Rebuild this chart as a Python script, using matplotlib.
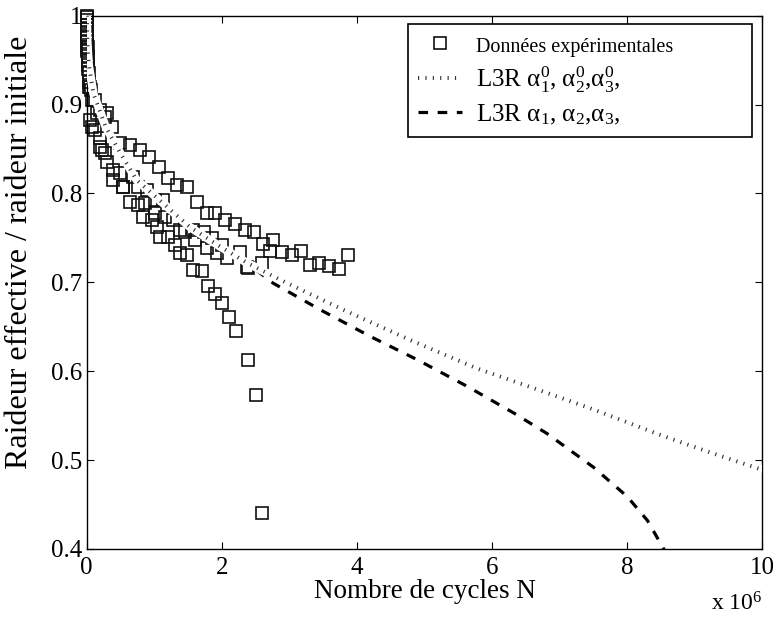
import matplotlib
matplotlib.use("Agg")
import matplotlib.pyplot as plt
from matplotlib.lines import Line2D

plt.rcParams['font.family'] = ['Liberation Serif', 'DejaVu Serif']
plt.rcParams['mathtext.fontset'] = 'custom'
plt.rcParams['mathtext.rm'] = 'Liberation Serif'
plt.rcParams['mathtext.it'] = 'Liberation Serif:italic'
plt.rcParams['mathtext.bf'] = 'Liberation Serif:bold'

# ---- experimental data (N in millions of cycles, stiffness ratio) ----
spec_a_x = [0, 0.004, 0.008, 0.015, 0.03, 0.07, 0.12, 0.2, 0.3, 0.49, 0.64, 0.79, 0.92, 1.07, 1.21,
            1.34, 1.48, 1.63, 1.78, 1.90, 2.05, 2.20, 2.35, 2.47, 2.61, 2.76, 2.89, 3.04, 3.17, 3.31,
            3.44, 3.59, 3.73, 3.87]
spec_a_y = [1.0, 0.985, 0.97, 0.955, 0.935, 0.916, 0.905, 0.894, 0.89, 0.857, 0.854, 0.849, 0.841,
            0.830, 0.817, 0.809, 0.807, 0.790, 0.778, 0.778, 0.770, 0.766, 0.759, 0.757, 0.743, 0.748,
            0.734, 0.731, 0.735, 0.720, 0.722, 0.718, 0.715, 0.731]

spec_b_x = [0, 0.004, 0.008, 0.015, 0.03, 0.05, 0.12, 0.2, 0.27, 0.39, 0.54, 0.64, 0.76, 0.84, 0.97,
            1.04, 1.09, 1.21, 1.31, 1.38, 1.48, 1.58, 1.70, 1.80, 1.90, 2.0, 2.11, 2.21, 2.39, 2.51, 2.60]
spec_b_y = [0.995, 0.978, 0.962, 0.945, 0.92, 0.883, 0.871, 0.852, 0.845, 0.826, 0.807, 0.790, 0.787,
            0.774, 0.770, 0.762, 0.751, 0.751, 0.742, 0.733, 0.731, 0.714, 0.713, 0.696, 0.687, 0.677,
            0.661, 0.645, 0.613, 0.573, 0.441]

spec_c_x = [0, 0.005, 0.01, 0.02, 0.04, 0.08, 0.15, 0.27, 0.37, 0.49, 0.69, 0.89, 1.01, 1.13, 1.38,
            1.58, 1.73, 1.86, 2.0, 2.27, 2.39, 2.6, 2.71]
spec_c_y = [0.99, 0.975, 0.96, 0.94, 0.925, 0.905, 0.89, 0.886, 0.875, 0.823, 0.818, 0.804, 0.793,
            0.793, 0.759, 0.759, 0.757, 0.750, 0.742, 0.734, 0.716, 0.722, 0.735]

spec_d_x = [0, 0.003, 0.007, 0.012, 0.02, 0.05, 0.08, 0.2, 0.23, 0.3, 0.39, 0.54, 0.76, 0.86, 1.01,
            1.16, 1.28, 1.45, 1.60, 1.78, 1.93, 2.08, 2.37]
spec_d_y = [0.998, 0.99, 0.98, 0.965, 0.95, 0.92, 0.875, 0.862, 0.849, 0.835, 0.815, 0.807, 0.807,
            0.789, 0.778, 0.774, 0.770, 0.757, 0.748, 0.739, 0.733, 0.727, 0.717]

# ---- model curves ----
l3r0_x = [0, 0.005, 0.01, 0.03, 0.06, 0.1, 0.15, 0.28, 0.5, 0.74, 1.13, 1.53, 1.98, 2.37, 2.86, 3.80,
          4.79, 5.78, 6.76, 7.5, 8.5, 9.25, 10]
l3r0_y = [1.0, 0.985, 0.97, 0.945, 0.931, 0.912, 0.902, 0.875, 0.845, 0.815, 0.789, 0.762, 0.740,
          0.722, 0.703, 0.669, 0.635, 0.603, 0.577, 0.557, 0.528, 0.508, 0.489]

l3r_x = [0, 0.005, 0.01, 0.03, 0.06, 0.1, 0.15, 0.28, 0.5, 0.74, 1.13, 1.53, 1.98, 2.37, 2.76, 3.46,
         4.2, 4.89, 5.63, 6.32, 6.81, 7.01, 7.5, 8.0, 8.3, 8.54, 8.6]
l3r_y = [1.0, 0.985, 0.97, 0.945, 0.931, 0.912, 0.902, 0.875, 0.845, 0.815, 0.789, 0.762, 0.740,
         0.722, 0.699, 0.669, 0.639, 0.613, 0.583, 0.553, 0.530, 0.519, 0.492, 0.459, 0.432, 0.400,
         0.392]

labels = ['Données expérimentales', 'L3R α$_1^0$, α$_2^0$,α$_3^0$,', 'L3R α$_1$, α$_2$,α$_3$,']
x_ticks = [0, 2, 4, 6, 8, 10]
y_ticks = [0.4, 0.5, 0.6, 0.7, 0.8, 0.9, 1.0]
y_ticklabels = ['0.4', '0.5', '0.6', '0.7', '0.8', '0.9', '1']

fig = plt.figure(figsize=(7.77, 6.21), dpi=100)
ax = fig.add_axes([0.1116, 0.116, 0.8695, 0.8588])

mk = dict(linestyle='none', marker='s', markersize=8.5, markerfacecolor='none',
          markeredgecolor='#111111', markeredgewidth=1.2, clip_on=False, zorder=2)
for xs, ys in [(spec_a_x, spec_a_y), (spec_b_x, spec_b_y), (spec_c_x, spec_c_y), (spec_d_x, spec_d_y)]:
    ax.plot(xs, ys, **mk)

ax.plot(l3r_x, l3r_y, color='black', linewidth=2.3, dashes=(3, 3), dash_capstyle='butt', zorder=3)
ax.plot(l3r0_x, l3r0_y, color='white', linewidth=6, solid_capstyle='butt', zorder=4)
ax.plot(l3r0_x, l3r0_y, color='#333333', linewidth=2.8, dashes=(0.3, 1.6), dash_capstyle='butt', zorder=5)

ax.set_xlim(0, 10)
ax.set_ylim(0.4, 1.0)
ax.set_xticks(x_ticks)
ax.set_xticklabels([str(t) for t in x_ticks])
ax.set_yticks(y_ticks)
ax.set_yticklabels(y_ticklabels)
ax.tick_params(direction='in', length=5, width=0.8, top=True, right=True, labelsize=18)
ax.tick_params(axis='x', pad=6)
ax.tick_params(axis='y', pad=3)
for s in ax.spines.values():
    s.set_linewidth(1.0)

ax.set_xlabel('Nombre de cycles N', fontsize=19.5, labelpad=0)
ax.set_ylabel('Raideur effective / raideur initiale', fontsize=23)
ax.yaxis.set_label_coords(-0.078, 0.557)
ax.text(1.0, -0.082, 'x 10$^6$', transform=ax.transAxes, ha='right', va='top', fontsize=17)

h1 = Line2D([], [], linestyle='none', marker='s', markersize=8.5, markerfacecolor='none',
            markeredgecolor='#111111', markeredgewidth=1.2)
h2 = Line2D([], [], color='#333333', linewidth=2.8, dashes=(0.3, 1.6))
h3 = Line2D([], [], color='black', linewidth=2.3, dashes=(3, 3))
leg = ax.legend([h1, h2, h3], labels, loc='upper left', bbox_to_anchor=(0.4756, 0.784, 0.509, 0.2),
                mode='expand', fontsize=18, frameon=True, fancybox=False, framealpha=1,
                edgecolor='black', handlelength=1.75, handletextpad=0.55, borderpad=0.4,
                labelspacing=0.3, borderaxespad=0)
leg.get_frame().set_linewidth(1.2)
leg.get_texts()[0].set_fontsize(14.5)

fig.savefig('out.png', dpi=100)
